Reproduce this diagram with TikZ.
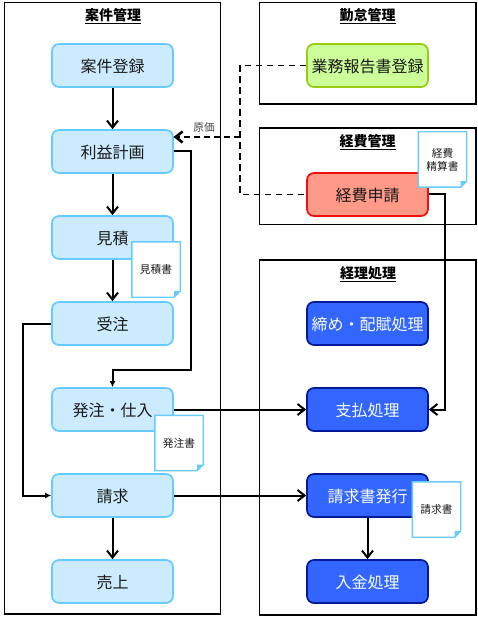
\documentclass[tikz,border=0pt]{standalone}
\usepackage{fontspec}
\setmainfont{Noto Sans CJK JP}
\usetikzlibrary{arrows.meta,calc}
\definecolor{lbfill}{HTML}{CCEBFF}
\definecolor{lbline}{HTML}{66CCFF}
\definecolor{grfill}{HTML}{CCFF99}
\definecolor{grline}{HTML}{99CC11}
\definecolor{rdfill}{HTML}{FF9988}
\definecolor{rdline}{HTML}{F01010}
\definecolor{dbfill}{HTML}{3366FF}
\definecolor{dbline}{HTML}{001A99}
\definecolor{txt}{HTML}{1A1A1A}
\tikzset{
  panel/.style={draw=black,line width=1.9pt,fill=white,sharp corners},
  paneltitle/.style={font=\fontsize{14}{15}\selectfont\bfseries,text=black,inner sep=0pt},
  procbox/.style={rounded corners=7pt,line width=1.7pt,minimum width=121pt,minimum height=43pt,
     inner sep=0pt,text height=16pt,text depth=2pt,font=\fontsize{16}{18}\selectfont,text=txt,draw=lbline,fill=lbfill},
  greenbox/.style={procbox,draw=grline,fill=grfill},
  redbox/.style={procbox,draw=rdline,fill=rdfill},
  bluebox/.style={procbox,draw=dbline,fill=dbfill,text=white!90!lbfill},
  docbox/.style={minimum width=48pt,minimum height=55pt,inner sep=0pt,fill=white,
     font=\fontsize{10.7}{13}\selectfont,text=txt,align=center},
  docline/.style={draw=lbline,line width=1.4pt},
  flow/.style={draw=black,line width=2pt},
  barb/.style={flow,-{Straight Barb[length=7pt,width=11pt,line width=2pt]}},
  solidtip/.style={flow,-{Latex[length=6pt,width=6pt]}},
  dashline/.style={draw=black,line width=1.8pt,dash pattern=on 6.5pt off 4.5pt},
  dashthick/.style={draw=black,line width=2.6pt,dash pattern=on 6pt off 4pt,
     -{Straight Barb[length=7pt,width=11pt,line width=2.6pt]}},
  smalllabel/.style={font=\fontsize{10.7}{13}\selectfont,text=txt!80!white,inner sep=0pt},
}
\newcommand{\docnode}[4]{%
  \node[docbox] (#1) at (#2,#3) {#4};
  \draw[docline] (#1.north west) -- (#1.north east) -- ([yshift=6pt]#1.south east)
     -- ([xshift=-6pt]#1.south east) -- (#1.south west) -- cycle;
  \fill[lbline] ([yshift=6pt]#1.south east) -- ([xshift=-6pt]#1.south east)
     -- ([xshift=-6pt,yshift=6pt]#1.south east) -- cycle;
}
\begin{document}
\begin{tikzpicture}[x=1pt,y=-1pt]
\useasboundingbox (0,0) rectangle (477,617);
% panels
\draw[panel] (4.5,2.5) rectangle (220.5,614);
\draw[panel] (259.5,2.5) rectangle (476,104);
\draw[panel] (259.5,128) rectangle (476,224.5);
\draw[panel] (259.5,260) rectangle (476,615);
\node[paneltitle] (t1) at (113,16) {\underline{案件管理}};
\node[paneltitle] (t2) at (367.5,16) {\underline{勤怠管理}};
\node[paneltitle] (t3) at (367.5,142.5) {\underline{経費管理}};
\node[paneltitle] (t4) at (368,274) {\underline{経理処理}};
% process boxes
\node[procbox] (a1) at (112.5,65.5) {案件登録};
\node[procbox] (a2) at (112.5,151.5) {利益計画};
\node[procbox] (a3) at (112.5,237.5) {見積};
\node[procbox] (a4) at (112.5,323.5) {受注};
\node[procbox] (a5) at (112.5,409.5) {発注・仕入};
\node[procbox] (a6) at (112.5,495.5) {請求};
\node[procbox] (a7) at (112.5,581.5) {売上};
\node[greenbox] (g1) at (367.5,65.5) {業務報告書登録};
\node[redbox] (r1) at (367.5,194.5) {経費申請};
\node[bluebox] (b1) at (367.5,323.5) {締め・配賦処理};
\node[bluebox] (b2) at (367.5,409.5) {支払処理};
\node[bluebox] (b3) at (367.5,495.5) {請求書発行};
\node[bluebox] (b4) at (367.5,581.5) {入金処理};
% connectors
\draw[barb] (a1) -- (a2);
\draw[barb] (a2) -- (a3);
\draw[barb] (a3) -- (a4);
\draw[barb] (a6) -- (a7);
\draw[barb] (b3) -- (b4);
\draw[barb] (a5) -- (b2);
\draw[barb] (a6) -- (b3);
\coordinate (c1) at (191,370);
\draw[solidtip] (a2.east) -| (c1) -| (a5.north);
\coordinate (c2) at (23,400);
\draw[solidtip] (a4.west) -| (c2) |- (a6.west);
\coordinate (c3) at (445,300);
\draw[barb] (r1.east) -| (c3) |- (b2.east);
% dashed
\coordinate (d1) at (240,137);
\coordinate (d2) at (173.5,137);
\draw[dashline] (g1.west) -| (d1) |- (r1.west);
\draw[dashthick] (d1) -- (d2);
\node[smalllabel] (l1) at (204,127) {原価};
% documents
\docnode{d3}{156}{269.5}{見積書}
\docnode{d5}{179}{443}{発注書}
\docnode{de}{442.5}{159.5}{経費\\精算書}
\docnode{db}{436.5}{509.5}{請求書}
\end{tikzpicture}
\end{document}
